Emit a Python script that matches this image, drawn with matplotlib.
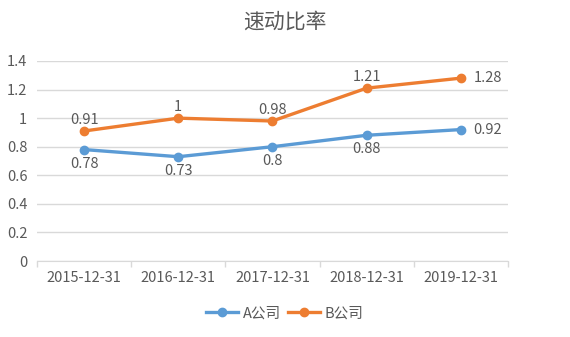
import matplotlib.pyplot as plt
import numpy as np

plt.rcParams['font.family'] = ['Noto Sans CJK SC', 'DejaVu Sans']

dates = ['2015-12-31', '2016-12-31', '2017-12-31', '2018-12-31', '2019-12-31']
a_vals = [0.78, 0.73, 0.8, 0.88, 0.92]
b_vals = [0.91, 1, 0.98, 1.21, 1.28]

blue = '#5B9BD5'
orange = '#ED7D31'
txt = '#595959'
fs = 10.5

fig = plt.figure(figsize=(5.7, 3.37), dpi=100)
ax = fig.add_axes([0.065, 0.2255, 0.826, 0.5935])

x = np.arange(len(dates))
ax.plot(x, a_vals, color=blue, lw=2.4, marker='o', ms=6, label='A公司', zorder=3)
ax.plot(x, b_vals, color=orange, lw=2.4, marker='o', ms=6, label='B公司', zorder=3)

# data labels
for i, (a, b) in enumerate(zip(a_vals, b_vals)):
    if i == len(x) - 1:
        ax.annotate(f'{a:g}', (i, a), xytext=(9, 0), textcoords='offset points',
                    ha='left', va='center', fontsize=fs, color=txt)
        ax.annotate(f'{b:g}', (i, b), xytext=(9, 0), textcoords='offset points',
                    ha='left', va='center', fontsize=fs, color=txt)
    else:
        ax.annotate(f'{a:g}', (i, a), xytext=(0, -5), textcoords='offset points',
                    ha='center', va='top', fontsize=fs, color=txt)
        ax.annotate(f'{b:g}', (i, b), xytext=(0, 3), textcoords='offset points',
                    ha='center', va='bottom', fontsize=fs, color=txt)

ax.set_xlim(-0.5, len(x) - 0.5)
ax.set_ylim(0, 1.4)
ax.set_yticks(np.arange(0, 1.41, 0.2))
ax.set_yticklabels(['0', '0.2', '0.4', '0.6', '0.8', '1', '1.2', '1.4'])
ax.set_xticks(x)
ax.set_xticklabels(dates)
ax.set_xticks(np.arange(-0.5, len(x), 1), minor=True)
ax.tick_params(axis='x', which='major', length=0, pad=7, labelsize=fs, labelcolor=txt)
ax.tick_params(axis='x', which='minor', length=4, color='#D9D9D9', width=1)
ax.tick_params(axis='y', length=0, pad=7, labelsize=fs, labelcolor=txt)

ax.grid(axis='y', color='#D9D9D9', lw=1)
ax.set_axisbelow(True)
for s in ['top', 'right', 'left']:
    ax.spines[s].set_visible(False)
ax.spines['bottom'].set_color('#D9D9D9')

fig.text(0.5, 0.935, '速动比率', ha='center', va='center', fontsize=15, color=txt)
fig.legend(loc='center', bbox_to_anchor=(0.5, 0.07), ncol=2, frameon=False,
           fontsize=fs, labelcolor=txt, handlelength=2.2, columnspacing=0.5,
           handletextpad=0.3)

fig.savefig('out.png', dpi=100)
